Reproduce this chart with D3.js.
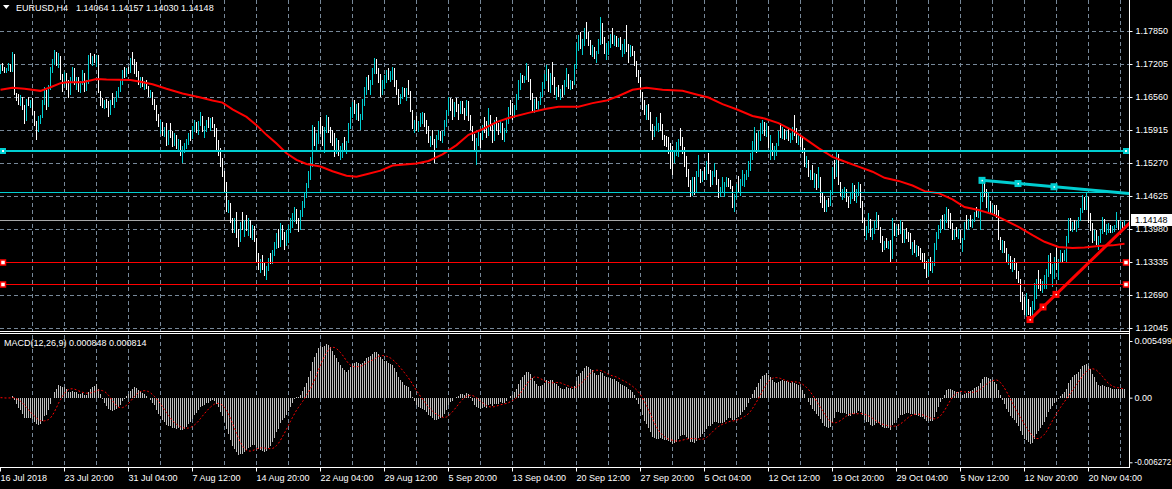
<!DOCTYPE html>
<html><head><meta charset="utf-8">
<script src="https://cdn.jsdelivr.net/npm/d3@7/dist/d3.min.js"></script>
<style>
html,body{margin:0;padding:0;background:#000;overflow:hidden;}
svg{display:block;}
</style></head><body>
<svg id="chart" width="1172" height="489"></svg>
<script>
// ---------- data ----------
const symbolTitle = "EURUSD,H4";
const indicatorTitle = "MACD(12,26,9) 0.000848 0.000814";
const timeLabels = ["16 Jul 2018","23 Jul 20:00","31 Jul 04:00","7 Aug 12:00","14 Aug 20:00","22 Aug 04:00","29 Aug 12:00","5 Sep 20:00","13 Sep 04:00","20 Sep 12:00","27 Sep 20:00","5 Oct 04:00","12 Oct 12:00","19 Oct 20:00","29 Oct 04:00","5 Nov 12:00","12 Nov 20:00","20 Nov 04:00"];
const barsPerLabel = 32;
const priceTicks = [1.17850,1.17205,1.16560,1.15915,1.15270,1.14625,1.13980,1.13335,1.12690,1.12045];
const macdTicks = [0.005499, 0, -0.006272];
const macdTickLabels = ["0.005499","0.00","-0.006272"];

const highs = [
1.1718,1.1722,1.1715,1.1713,1.1722,1.1720,1.1744,1.1740,1.1664,1.1662,
1.1660,1.1656,1.1640,1.1652,1.1656,1.1650,1.1654,1.1628,1.1610,1.1618,
1.1621,1.1650,1.1676,1.1670,1.1680,1.1715,1.1730,1.1748,1.1744,1.1742,
1.1736,1.1700,1.1705,1.1703,1.1690,1.1696,1.1715,1.1712,1.1695,1.1695,
1.1688,1.1709,1.1702,1.1690,1.1738,1.1742,1.1736,1.1740,1.1738,1.1738,
1.1668,1.1654,1.1650,1.1652,1.1648,1.1650,1.1664,1.1655,1.1668,1.1676,
1.1690,1.1708,1.1715,1.1712,1.1715,1.1732,1.1744,1.1730,1.1724,1.1706,
1.1696,1.1695,1.1688,1.1690,1.1678,1.1670,1.1666,1.1652,1.1640,1.1622,
1.1611,1.1608,1.1598,1.1605,1.1592,1.1605,1.1590,1.1586,1.1582,1.1574,
1.1572,1.1560,1.1566,1.1574,1.1585,1.1591,1.1600,1.1611,1.1608,1.1610,
1.1627,1.1618,1.1600,1.1612,1.1617,1.1615,1.1617,1.1604,1.1596,1.1572,
1.1556,1.1537,1.1512,1.1490,1.1455,1.1448,1.1420,1.1420,1.1431,1.1398,
1.1412,1.1431,1.1416,1.1425,1.1419,1.1415,1.1405,1.1404,1.1380,1.1351,
1.1340,1.1348,1.1332,1.1326,1.1342,1.1351,1.1356,1.1372,1.1390,1.1398,
1.1410,1.1406,1.1392,1.1396,1.1405,1.1419,1.1430,1.1441,1.1438,1.1420,
1.1435,1.1452,1.1470,1.1488,1.1512,1.1539,1.1601,1.1598,1.1585,1.1610,
1.1617,1.1600,1.1598,1.1621,1.1616,1.1597,1.1591,1.1585,1.1575,1.1572,
1.1560,1.1566,1.1578,1.1570,1.1606,1.1636,1.1646,1.1650,1.1642,1.1644,
1.1622,1.1652,1.1676,1.1695,1.1699,1.1690,1.1712,1.1732,1.1730,1.1712,
1.1700,1.1690,1.1699,1.1708,1.1713,1.1706,1.1715,1.1712,1.1689,1.1672,
1.1662,1.1676,1.1674,1.1674,1.1689,1.1668,1.1631,1.1612,1.1618,1.1610,
1.1625,1.1627,1.1624,1.1612,1.1600,1.1580,1.1591,1.1574,1.1582,1.1591,
1.1590,1.1590,1.1611,1.1630,1.1656,1.1654,1.1652,1.1646,1.1654,1.1642,
1.1648,1.1648,1.1634,1.1650,1.1648,1.1620,1.1600,1.1584,1.1576,1.1588,
1.1585,1.1602,1.1617,1.1610,1.1634,1.1620,1.1604,1.1611,1.1617,1.1606,
1.1610,1.1605,1.1596,1.1615,1.1636,1.1650,1.1644,1.1640,1.1662,1.1690,
1.1703,1.1699,1.1698,1.1722,1.1716,1.1692,1.1664,1.1652,1.1656,1.1648,
1.1666,1.1685,1.1700,1.1719,1.1710,1.1702,1.1724,1.1695,1.1676,1.1680,
1.1672,1.1679,1.1690,1.1713,1.1700,1.1689,1.1688,1.1720,1.1762,1.1778,
1.1783,1.1770,1.1790,1.1803,1.1784,1.1767,1.1758,1.1754,1.1746,1.1770,
1.1812,1.1800,1.1773,1.1762,1.1766,1.1780,1.1791,1.1777,1.1775,1.1772,
1.1773,1.1760,1.1770,1.1797,1.1760,1.1758,1.1756,1.1745,1.1726,1.1708,
1.1695,1.1666,1.1650,1.1640,1.1642,1.1626,1.1604,1.1600,1.1617,1.1606,
1.1625,1.1604,1.1582,1.1580,1.1578,1.1566,1.1560,1.1552,1.1568,1.1574,
1.1595,1.1578,1.1558,1.1540,1.1516,1.1494,1.1500,1.1500,1.1512,1.1543,
1.1516,1.1512,1.1519,1.1530,1.1546,1.1514,1.1512,1.1527,1.1513,1.1496,
1.1480,1.1500,1.1490,1.1500,1.1498,1.1494,1.1482,1.1466,1.1486,1.1502,
1.1496,1.1513,1.1506,1.1514,1.1530,1.1546,1.1570,1.1597,1.1586,1.1590,
1.1605,1.1611,1.1608,1.1606,1.1600,1.1582,1.1566,1.1560,1.1566,1.1590,
1.1605,1.1597,1.1594,1.1590,1.1595,1.1586,1.1598,1.1621,1.1596,1.1586,
1.1582,1.1578,1.1556,1.1540,1.1532,1.1514,1.1523,1.1508,1.1506,1.1519,
1.1500,1.1470,1.1462,1.1455,1.1458,1.1474,1.1520,1.1533,1.1548,1.1544,
1.1490,1.1476,1.1480,1.1476,1.1460,1.1468,1.1488,1.1484,1.1476,1.1490,
1.1486,1.1452,1.1420,1.1404,1.1429,1.1418,1.1400,1.1414,1.1431,1.1426,
1.1402,1.1384,1.1374,1.1380,1.1374,1.1376,1.1419,1.1410,1.1404,1.1408,
1.1416,1.1412,1.1396,1.1400,1.1392,1.1390,1.1372,1.1376,1.1366,1.1364,
1.1361,1.1352,1.1351,1.1336,1.1340,1.1343,1.1336,1.1370,1.1392,1.1406,
1.1418,1.1425,1.1428,1.1441,1.1438,1.1429,1.1410,1.1396,1.1402,1.1398,
1.1396,1.1380,1.1412,1.1425,1.1418,1.1425,1.1418,1.1432,1.1441,1.1436,
1.1470,1.1490,1.1498,1.1476,1.1468,1.1452,1.1445,1.1444,1.1445,1.1436,
1.1382,1.1376,1.1374,1.1361,1.1350,1.1346,1.1338,1.1341,1.1331,1.1316,
1.1300,1.1274,1.1266,1.1273,1.1262,1.1246,1.1258,1.1292,1.1300,1.1318,
1.1300,1.1296,1.1308,1.1320,1.1347,1.1351,1.1330,1.1344,1.1361,1.1340,
1.1357,1.1352,1.1356,1.1384,1.1419,1.1419,1.1412,1.1416,1.1414,1.1421,
1.1440,1.1464,1.1460,1.1468,1.1460,1.1430,1.1410,1.1396,1.1396,1.1384,
1.1398,1.1421,1.1418,1.1408,1.1410,1.1406,1.1404,1.1406,1.1431,1.1416,
1.1414,1.1412,1.14157];

const lows = [
1.1700,1.1706,1.1703,1.1702,1.1707,1.1704,1.1705,1.1660,1.1648,1.1640,
1.1638,1.1630,1.1604,1.1610,1.1638,1.1634,1.1620,1.1600,1.1572,1.1588,
1.1604,1.1615,1.1640,1.1630,1.1636,1.1670,1.1703,1.1718,1.1716,1.1712,
1.1690,1.1666,1.1678,1.1670,1.1654,1.1660,1.1684,1.1680,1.1670,1.1666,
1.1664,1.1680,1.1666,1.1668,1.1682,1.1720,1.1716,1.1722,1.1714,1.1664,
1.1638,1.1634,1.1632,1.1634,1.1617,1.1620,1.1640,1.1634,1.1646,1.1655,
1.1666,1.1680,1.1694,1.1695,1.1700,1.1702,1.1718,1.1700,1.1696,1.1680,
1.1674,1.1676,1.1670,1.1672,1.1656,1.1654,1.1640,1.1631,1.1610,1.1597,
1.1584,1.1580,1.1578,1.1560,1.1562,1.1575,1.1558,1.1560,1.1554,1.1552,
1.1540,1.1527,1.1546,1.1554,1.1562,1.1570,1.1574,1.1588,1.1585,1.1582,
1.1600,1.1588,1.1576,1.1588,1.1596,1.1590,1.1596,1.1578,1.1552,1.1540,
1.1519,1.1500,1.1470,1.1431,1.1429,1.1410,1.1390,1.1390,1.1380,1.1363,
1.1372,1.1396,1.1382,1.1394,1.1384,1.1380,1.1376,1.1372,1.1331,1.1318,
1.1312,1.1318,1.1306,1.1298,1.1316,1.1330,1.1330,1.1345,1.1358,1.1360,
1.1362,1.1376,1.1357,1.1364,1.1371,1.1390,1.1400,1.1412,1.1408,1.1392,
1.1396,1.1421,1.1440,1.1458,1.1478,1.1494,1.1520,1.1560,1.1550,1.1565,
1.1584,1.1560,1.1546,1.1585,1.1585,1.1566,1.1560,1.1539,1.1545,1.1540,
1.1533,1.1537,1.1550,1.1545,1.1566,1.1594,1.1615,1.1622,1.1611,1.1610,
1.1591,1.1612,1.1638,1.1660,1.1670,1.1660,1.1680,1.1700,1.1700,1.1683,
1.1656,1.1660,1.1672,1.1683,1.1690,1.1686,1.1690,1.1676,1.1660,1.1640,
1.1642,1.1652,1.1656,1.1648,1.1660,1.1627,1.1594,1.1586,1.1590,1.1588,
1.1598,1.1604,1.1597,1.1584,1.1566,1.1558,1.1562,1.1527,1.1556,1.1572,
1.1570,1.1566,1.1580,1.1597,1.1620,1.1628,1.1611,1.1616,1.1626,1.1611,
1.1622,1.1622,1.1611,1.1618,1.1610,1.1591,1.1570,1.1548,1.1523,1.1560,
1.1556,1.1572,1.1586,1.1576,1.1580,1.1590,1.1566,1.1570,1.1590,1.1582,
1.1585,1.1572,1.1568,1.1586,1.1604,1.1620,1.1611,1.1614,1.1631,1.1650,
1.1670,1.1683,1.1683,1.1690,1.1685,1.1650,1.1627,1.1625,1.1632,1.1628,
1.1640,1.1656,1.1672,1.1688,1.1666,1.1664,1.1680,1.1660,1.1650,1.1656,
1.1650,1.1656,1.1660,1.1676,1.1672,1.1670,1.1672,1.1679,1.1710,1.1746,
1.1750,1.1738,1.1756,1.1770,1.1756,1.1738,1.1734,1.1730,1.1722,1.1740,
1.1758,1.1760,1.1740,1.1728,1.1738,1.1752,1.1760,1.1756,1.1754,1.1754,
1.1748,1.1734,1.1740,1.1744,1.1722,1.1734,1.1736,1.1716,1.1696,1.1683,
1.1655,1.1631,1.1620,1.1611,1.1612,1.1590,1.1572,1.1578,1.1590,1.1588,
1.1590,1.1572,1.1560,1.1558,1.1544,1.1516,1.1503,1.1527,1.1540,1.1539,
1.1560,1.1545,1.1520,1.1500,1.1480,1.1460,1.1462,1.1464,1.1470,1.1500,
1.1488,1.1490,1.1494,1.1494,1.1506,1.1480,1.1484,1.1500,1.1484,1.1458,
1.1460,1.1470,1.1460,1.1480,1.1480,1.1476,1.1440,1.1431,1.1456,1.1470,
1.1462,1.1482,1.1480,1.1494,1.1500,1.1512,1.1533,1.1550,1.1546,1.1552,
1.1570,1.1584,1.1580,1.1578,1.1556,1.1533,1.1540,1.1533,1.1540,1.1560,
1.1576,1.1574,1.1572,1.1574,1.1570,1.1566,1.1572,1.1580,1.1566,1.1562,
1.1558,1.1546,1.1520,1.1517,1.1500,1.1494,1.1494,1.1478,1.1474,1.1478,
1.1449,1.1440,1.1431,1.1432,1.1441,1.1443,1.1465,1.1496,1.1500,1.1484,
1.1462,1.1455,1.1458,1.1450,1.1439,1.1446,1.1456,1.1452,1.1449,1.1462,
1.1440,1.1410,1.1384,1.1376,1.1390,1.1382,1.1376,1.1388,1.1400,1.1396,
1.1370,1.1353,1.1357,1.1360,1.1358,1.1333,1.1340,1.1384,1.1382,1.1386,
1.1388,1.1371,1.1371,1.1378,1.1372,1.1358,1.1347,1.1352,1.1343,1.1346,
1.1338,1.1331,1.1320,1.1302,1.1306,1.1316,1.1312,1.1326,1.1357,1.1378,
1.1390,1.1398,1.1396,1.1410,1.1400,1.1398,1.1376,1.1376,1.1382,1.1378,
1.1370,1.1353,1.1376,1.1398,1.1396,1.1402,1.1400,1.1412,1.1421,1.1420,
1.1396,1.1450,1.1460,1.1440,1.1432,1.1428,1.1425,1.1428,1.1420,1.1376,
1.1356,1.1352,1.1351,1.1334,1.1327,1.1320,1.1314,1.1318,1.1300,1.1292,
1.1256,1.1240,1.1230,1.1226,1.1230,1.1214,1.1220,1.1240,1.1262,1.1280,
1.1276,1.1273,1.1280,1.1280,1.1305,1.1310,1.1285,1.1300,1.1318,1.1298,
1.1333,1.1334,1.1336,1.1331,1.1370,1.1394,1.1392,1.1396,1.1392,1.1400,
1.1414,1.1430,1.1436,1.1436,1.1410,1.1394,1.1371,1.1374,1.1366,1.1357,
1.1371,1.1388,1.1392,1.1386,1.1390,1.1390,1.1390,1.1392,1.1400,1.1396,
1.1396,1.1398,1.14030];

const closes = [
1.1712,1.1710,1.1706,1.1711,1.1718,1.1708,1.1738,1.1662,1.1655,1.1645,
1.1656,1.1634,1.1612,1.1648,1.1642,1.1646,1.1624,1.1606,1.1590,1.1612,
1.1618,1.1646,1.1668,1.1640,1.1676,1.1708,1.1725,1.1740,1.1722,1.1734,
1.1694,1.1682,1.1700,1.1676,1.1664,1.1690,1.1706,1.1686,1.1690,1.1672,
1.1684,1.1700,1.1674,1.1686,1.1732,1.1728,1.1732,1.1725,1.1736,1.1668,
1.1646,1.1640,1.1646,1.1638,1.1624,1.1646,1.1644,1.1652,1.1664,1.1670,
1.1686,1.1704,1.1698,1.1708,1.1705,1.1728,1.1722,1.1718,1.1702,1.1684,
1.1690,1.1680,1.1686,1.1675,1.1662,1.1666,1.1645,1.1636,1.1614,1.1602,
1.1606,1.1586,1.1594,1.1568,1.1588,1.1580,1.1566,1.1578,1.1560,1.1570,
1.1546,1.1552,1.1560,1.1570,1.1582,1.1576,1.1596,1.1604,1.1590,1.1606,
1.1618,1.1592,1.1596,1.1608,1.1600,1.1612,1.1600,1.1586,1.1560,1.1545,
1.1524,1.1506,1.1476,1.1440,1.1444,1.1414,1.1398,1.1410,1.1386,1.1378,
1.1406,1.1400,1.1410,1.1398,1.1412,1.1388,1.1400,1.1376,1.1340,1.1326,
1.1334,1.1322,1.1312,1.1320,1.1338,1.1334,1.1352,1.1366,1.1382,1.1368,
1.1404,1.1382,1.1370,1.1390,1.1400,1.1414,1.1424,1.1434,1.1414,1.1398,
1.1430,1.1448,1.1466,1.1482,1.1506,1.1530,1.1590,1.1570,1.1578,1.1604,
1.1590,1.1566,1.1592,1.1612,1.1590,1.1580,1.1568,1.1548,1.1570,1.1546,
1.1552,1.1560,1.1556,1.1566,1.1600,1.1628,1.1640,1.1630,1.1636,1.1614,
1.1618,1.1646,1.1670,1.1688,1.1676,1.1684,1.1708,1.1726,1.1706,1.1690,
1.1668,1.1684,1.1694,1.1704,1.1696,1.1702,1.1708,1.1682,1.1666,1.1648,
1.1656,1.1670,1.1660,1.1670,1.1664,1.1632,1.1600,1.1606,1.1596,1.1606,
1.1612,1.1620,1.1604,1.1590,1.1572,1.1576,1.1568,1.1560,1.1578,1.1586,
1.1576,1.1586,1.1606,1.1626,1.1648,1.1636,1.1620,1.1640,1.1632,1.1630,
1.1644,1.1626,1.1620,1.1644,1.1614,1.1596,1.1576,1.1556,1.1570,1.1580,
1.1574,1.1598,1.1594,1.1582,1.1616,1.1596,1.1574,1.1600,1.1596,1.1590,
1.1604,1.1578,1.1590,1.1612,1.1630,1.1626,1.1620,1.1636,1.1658,1.1684,
1.1694,1.1688,1.1694,1.1706,1.1690,1.1656,1.1638,1.1648,1.1636,1.1644,
1.1662,1.1680,1.1696,1.1706,1.1676,1.1698,1.1688,1.1666,1.1670,1.1662,
1.1668,1.1662,1.1686,1.1696,1.1680,1.1684,1.1680,1.1716,1.1756,1.1772,
1.1758,1.1764,1.1786,1.1780,1.1762,1.1746,1.1752,1.1738,1.1742,1.1764,
1.1796,1.1770,1.1746,1.1756,1.1762,1.1776,1.1768,1.1772,1.1760,1.1766,
1.1752,1.1756,1.1764,1.1752,1.1746,1.1752,1.1742,1.1720,1.1700,1.1690,
1.1660,1.1640,1.1626,1.1634,1.1618,1.1596,1.1580,1.1596,1.1598,1.1600,
1.1598,1.1580,1.1576,1.1566,1.1552,1.1546,1.1530,1.1548,1.1550,1.1570,
1.1566,1.1552,1.1526,1.1510,1.1486,1.1470,1.1492,1.1474,1.1506,1.1510,
1.1494,1.1508,1.1500,1.1524,1.1512,1.1488,1.1506,1.1510,1.1490,1.1464,
1.1476,1.1478,1.1484,1.1494,1.1488,1.1480,1.1446,1.1460,1.1480,1.1474,
1.1490,1.1494,1.1502,1.1510,1.1526,1.1538,1.1562,1.1566,1.1560,1.1584,
1.1592,1.1600,1.1590,1.1600,1.1560,1.1566,1.1546,1.1554,1.1560,1.1586,
1.1584,1.1592,1.1578,1.1586,1.1576,1.1582,1.1594,1.1590,1.1572,1.1580,
1.1568,1.1552,1.1526,1.1532,1.1506,1.1510,1.1498,1.1500,1.1482,1.1490,
1.1458,1.1448,1.1440,1.1450,1.1446,1.1470,1.1514,1.1504,1.1540,1.1490,
1.1466,1.1470,1.1476,1.1454,1.1448,1.1462,1.1480,1.1458,1.1470,1.1484,
1.1446,1.1420,1.1390,1.1398,1.1418,1.1390,1.1392,1.1408,1.1422,1.1402,
1.1376,1.1362,1.1370,1.1364,1.1370,1.1344,1.1408,1.1390,1.1398,1.1392,
1.1410,1.1380,1.1390,1.1384,1.1378,1.1362,1.1366,1.1356,1.1360,1.1350,
1.1344,1.1340,1.1326,1.1310,1.1334,1.1320,1.1330,1.1364,1.1386,1.1398,
1.1412,1.1404,1.1422,1.1434,1.1406,1.1402,1.1384,1.1392,1.1386,1.1394,
1.1374,1.1376,1.1408,1.1404,1.1414,1.1408,1.1414,1.1428,1.1426,1.1430,
1.1460,1.1482,1.1470,1.1446,1.1452,1.1436,1.1440,1.1432,1.1426,1.1382,
1.1366,1.1370,1.1356,1.1340,1.1344,1.1326,1.1332,1.1322,1.1306,1.1298,
1.1262,1.1250,1.1236,1.1260,1.1236,1.1224,1.1252,1.1282,1.1294,1.1290,
1.1282,1.1290,1.1300,1.1316,1.1338,1.1318,1.1324,1.1338,1.1324,1.1336,
1.1350,1.1344,1.1352,1.1378,1.1410,1.1404,1.1408,1.1400,1.1410,1.1418,
1.1436,1.1456,1.1444,1.1454,1.1420,1.1400,1.1378,1.1390,1.1372,1.1376,
1.1394,1.1414,1.1398,1.1400,1.1406,1.1396,1.1400,1.1404,1.1412,1.1408,
1.1410,1.14064,1.14148];

// red moving average, read at sampled bars
const maIdx = [0,6,12,20,25,30,33,41,48,53,65,70,76,83,91,100,106,111,116,123,128,133,138,143,148,153,160,166,173,178,183,190,196,208,214,221,228,234,241,248,254,264,273,279,289,296,303,309,316,323,331,341,348,354,361,368,376,382,389,396,402,409,416,422,429,436,442,449,456,462,469,476,482,489,496,502,509,516,522,529,536,542,549,556,562];
const maVal = [1.1670,1.1674,1.1672,1.1668,1.1675,1.1683,1.1685,1.1685,1.1691,1.1690,1.1689,1.1686,1.1681,1.1672,1.1663,1.1655,1.1649,1.1645,1.1632,1.1617,1.1601,1.1582,1.1565,1.1546,1.1533,1.1525,1.1520,1.1511,1.1502,1.1500,1.1505,1.1512,1.1522,1.1526,1.1531,1.1544,1.1562,1.1582,1.1593,1.1607,1.1615,1.1625,1.1633,1.1637,1.1637,1.1644,1.1649,1.1658,1.1670,1.1674,1.1670,1.1668,1.1661,1.1655,1.1642,1.1632,1.1619,1.1614,1.1605,1.1591,1.1575,1.1556,1.1539,1.1530,1.1520,1.1510,1.1498,1.1492,1.1483,1.1472,1.1468,1.1456,1.1441,1.1435,1.1427,1.1416,1.1402,1.1386,1.1373,1.1363,1.1361,1.1362,1.1365,1.1366,1.1369];

// horizontal lines (prices) and trend lines ([bar, price] anchors)
const levelPrices = [1.1551, 1.1470, 1.1333, 1.1290];
const cyanTrend = [[491, 1.14931], [527, 1.14806]];
const redTrend = [[515, 1.12210], [528, 1.12702]];

// ---------- drawing ----------
const CYAN = "#00ced1", RED = "#ff0000", GRID = "#778899", WHITE = "#ffffff";
const FONT = "'Liberation Sans', Arial, sans-serif";
const plotRight = 1129, mainBottom = 331, macdTop = 334, macdBottom = 467;
const N = Math.min(highs.length, lows.length, closes.length);

const svg = d3.select("#chart");
svg.append("rect").attr("width", 1172).attr("height", 489).attr("fill", "#000");

const x = d3.scaleLinear().domain([0, 564.5]).range([0, plotRight]);
const y = d3.scaleLinear().domain([1.12045, 1.17850]).range([328, 31]);
const ym = d3.scaleLinear().domain([-0.006272, 0.005499]).range([462.3, 341]);
const px = i => Math.round(x(i)) + 0.5;

const defs = svg.append("defs");
defs.append("clipPath").attr("id", "clipMain").append("rect").attr("x", 0).attr("y", 0).attr("width", plotRight).attr("height", mainBottom);
defs.append("clipPath").attr("id", "clipMacd").append("rect").attr("x", 0).attr("y", macdTop + 1).attr("width", plotRight).attr("height", macdBottom - macdTop - 1);

// grid
const grid = svg.append("g").attr("stroke", GRID).attr("stroke-dasharray", "4,3").attr("shape-rendering", "crispEdges");
const gridBars = d3.range(16, 564, 16);
grid.selectAll("line.vm").data(gridBars).join("line").attr("class", "vm")
  .attr("x1", px).attr("x2", px).attr("y1", 0).attr("y2", mainBottom);
grid.selectAll("line.vd").data(gridBars).join("line").attr("class", "vd")
  .attr("x1", px).attr("x2", px).attr("y1", macdTop + 1).attr("y2", macdBottom);
grid.selectAll("line.h").data(priceTicks).join("line").attr("class", "h")
  .attr("x1", 0).attr("x2", plotRight)
  .attr("y1", d => Math.round(y(d)) + 0.5).attr("y2", d => Math.round(y(d)) + 0.5);

const main = svg.append("g").attr("clip-path", "url(#clipMain)");

// current price line
const lastClose = closes[N - 1];
main.append("line").attr("x1", 0).attr("x2", plotRight)
  .attr("y1", Math.round(y(lastClose)) + 0.5).attr("y2", Math.round(y(lastClose)) + 0.5)
  .attr("stroke", "#a8a8a8").attr("shape-rendering", "crispEdges");

// bars
main.append("g").attr("shape-rendering", "crispEdges").selectAll("line")
  .data(d3.range(N)).join("line")
  .attr("x1", px).attr("x2", px)
  .attr("y1", i => y(highs[i])).attr("y2", i => Math.max(y(lows[i]), y(highs[i]) + 1))
  .attr("stroke", i => (i === 0 || closes[i] >= closes[i - 1]) ? CYAN : WHITE);

// moving average
main.append("path").datum(d3.zip(maIdx, maVal))
  .attr("fill", "none").attr("stroke", RED).attr("stroke-width", 2)
  .attr("d", d3.line().x(d => x(d[0]) + 0.5).y(d => y(d[1])));

// horizontal level lines
const levelStyle = [{c: CYAN, w: 2, h: "fill"}, {c: CYAN, w: 1, h: null}, {c: RED, w: 1, h: "box"}, {c: RED, w: 1, h: "box"}];
levelPrices.forEach((p, k) => {
  const s = levelStyle[k];
  const yy = s.w === 2 ? Math.round(y(p)) : Math.round(y(p)) + 0.5;
  main.append("line").attr("x1", 0).attr("x2", plotRight).attr("y1", yy).attr("y2", yy)
    .attr("stroke", s.c).attr("stroke-width", s.w).attr("shape-rendering", "crispEdges");
  if (s.h) {
    [3, plotRight - 3].forEach(cx => {
      if (s.h === "fill") {
        main.append("rect").attr("x", cx - 3).attr("y", yy - 3).attr("width", 6).attr("height", 6).attr("fill", s.c);
        main.append("rect").attr("x", cx - 1).attr("y", yy - 1).attr("width", 2).attr("height", 2).attr("fill", WHITE);
      } else {
        main.append("rect").attr("x", cx - 2.5).attr("y", yy - 2.5).attr("width", 5).attr("height", 5)
          .attr("fill", WHITE).attr("stroke", s.c).attr("stroke-width", 1.5);
      }
    });
  }
});

// trend lines (rays extended to the right edge)
function trend(anchors, color) {
  const [[b0, p0], [b1, p1]] = anchors;
  const slope = (p1 - p0) / (b1 - b0);
  const bEnd = x.invert(plotRight + 2);
  main.append("line").attr("x1", x(b0)).attr("y1", y(p0))
    .attr("x2", x(bEnd)).attr("y2", y(p0 + slope * (bEnd - b0)))
    .attr("stroke", color).attr("stroke-width", 3);
  [[b0, p0], [(b0 + b1) / 2, (p0 + p1) / 2], [b1, p1]].forEach(([b, p]) => {
    main.append("rect").attr("x", x(b) - 3.5).attr("y", y(p) - 3.5).attr("width", 7).attr("height", 7).attr("fill", color);
    main.append("rect").attr("x", x(b) - 0.5).attr("y", y(p) - 0.5).attr("width", 1.5).attr("height", 1.5).attr("fill", WHITE);
  });
}
trend(cyanTrend, CYAN);
trend(redTrend, RED);

// MACD(12,26,9): EMA12 - EMA26 histogram, SMA(9) signal
const ema = (a, n) => { const k = 2 / (n + 1); let e = a[0]; return a.map((v, i) => (e = i ? v * k + e * (1 - k) : v)); };
const e12 = ema(closes, 12), e26 = ema(closes, 26);
const macd = closes.map((c, i) => e12[i] - e26[i]);
const signal = macd.map((m, i) => d3.mean(macd.slice(Math.max(0, i - 8), i + 1)));

const mg = svg.append("g").attr("clip-path", "url(#clipMacd)");
mg.append("g").attr("shape-rendering", "crispEdges").selectAll("line")
  .data(macd).join("line")
  .attr("x1", (d, i) => px(i)).attr("x2", (d, i) => px(i))
  .attr("y1", ym(0)).attr("y2", d => ym(d))
  .attr("stroke", "#c0c0c0");
mg.append("path").datum(signal).attr("fill", "none").attr("stroke", RED).attr("stroke-width", 1)
  .attr("stroke-dasharray", "2,2")
  .attr("d", d3.line().x((d, i) => x(i) + 0.5).y(d => ym(d)));

// frame
const frame = svg.append("g").attr("stroke", WHITE).attr("shape-rendering", "crispEdges");
frame.append("line").attr("x1", plotRight + 0.5).attr("x2", plotRight + 0.5).attr("y1", 0).attr("y2", macdBottom + 0.5);
frame.append("line").attr("x1", 0).attr("x2", plotRight).attr("y1", mainBottom + 0.5).attr("y2", mainBottom + 0.5);
frame.append("line").attr("x1", 0).attr("x2", plotRight).attr("y1", macdTop - 0.5).attr("y2", macdTop - 0.5);
frame.append("line").attr("x1", 0).attr("x2", plotRight).attr("y1", macdBottom + 0.5).attr("y2", macdBottom + 0.5);

// price axis
const axR = svg.append("g").attr("transform", `translate(${plotRight + 0.5},0)`)
  .call(d3.axisRight(y).tickValues(priceTicks).tickFormat(d3.format(".5f")).tickSize(3).tickPadding(3));
axR.select(".domain").remove();
axR.selectAll("line").attr("stroke", WHITE);
axR.attr("font-family", FONT).attr("font-size", 9).selectAll("text").attr("fill", WHITE);

// current price tag
svg.append("rect").attr("x", plotRight + 2).attr("y", Math.round(y(lastClose)) - 6).attr("width", 41).attr("height", 12).attr("fill", WHITE);
svg.append("text").attr("x", plotRight + 6).attr("y", y(lastClose)).attr("dy", "0.33em")
  .attr("font-family", FONT).attr("font-size", 9).attr("fill", "#000").text(d3.format(".5f")(lastClose));

// MACD axis
const axM = svg.append("g").attr("transform", `translate(${plotRight + 0.5},0)`)
  .call(d3.axisRight(ym).tickValues(macdTicks).tickFormat((d, i) => macdTickLabels[i]).tickSize(3).tickPadding(2));
axM.select(".domain").remove();
axM.selectAll("line").attr("stroke", WHITE);
axM.attr("font-family", FONT).attr("font-size", 9).selectAll("text").attr("fill", WHITE)
  .attr("font-size", (d, i) => macdTickLabels[i].length > 8 ? 8.2 : 9);

// time axis
const labelBars = timeLabels.map((t, k) => k * barsPerLabel);
const axB = svg.append("g").attr("transform", `translate(0,${macdBottom + 0.5})`)
  .call(d3.axisBottom(x).tickValues(labelBars).tickFormat((d, i) => timeLabels[i]).tickSize(4).tickPadding(3));
axB.select(".domain").remove();
axB.selectAll("line").attr("stroke", WHITE);
axB.attr("font-family", FONT).attr("font-size", 9).selectAll("text").attr("fill", WHITE).attr("text-anchor", "start").attr("x", 0);

// titles
svg.append("path").attr("d", "M3,5 L9.5,5 L6.25,9 Z").attr("fill", WHITE);
const f5 = d3.format(".5f");
svg.append("text").attr("x", 16).attr("y", 11).attr("font-family", FONT).attr("font-size", 9).attr("fill", WHITE).text(symbolTitle);
svg.append("text").attr("x", 76).attr("y", 11).attr("font-family", FONT).attr("font-size", 9).attr("fill", WHITE)
  .text([closes[N - 2], highs[N - 1], lows[N - 1], closes[N - 1]].map(f5).join(" "));
svg.append("text").attr("x", 4).attr("y", 346).attr("font-family", FONT).attr("font-size", 9).attr("fill", WHITE).text(indicatorTitle);
</script>
</body></html>
